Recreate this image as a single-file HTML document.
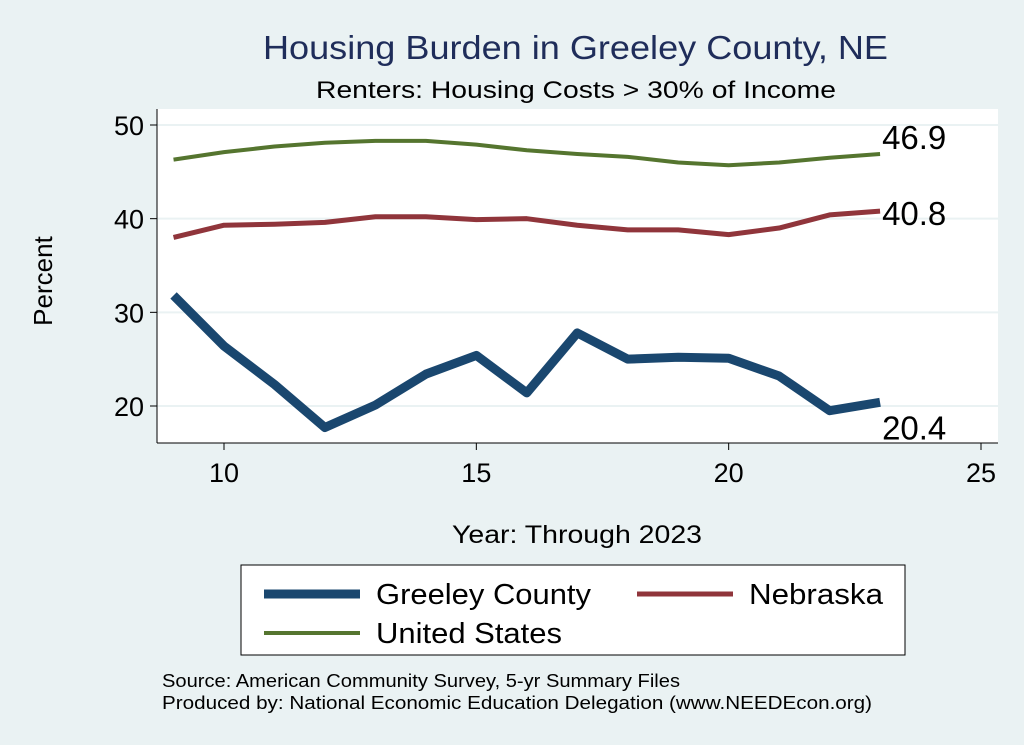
<!DOCTYPE html>
<html><head><meta charset="utf-8"><style>
body{margin:0;background:#eaf2f3;}
svg{display:block;font-family:"Liberation Sans",Arial,sans-serif;}
</style></head><body>
<svg id="chart" width="1024" height="745" viewBox="0 0 1024 745">
<rect x="0" y="0" width="1024" height="745" fill="#eaf2f3"/>
<text x="263" y="59" font-size="33" fill="#1f2d5a" textLength="625" lengthAdjust="spacingAndGlyphs">Housing Burden in Greeley County, NE</text>
<text x="316" y="98" font-size="24" fill="#000" textLength="520" lengthAdjust="spacingAndGlyphs">Renters: Housing Costs &gt; 30% of Income</text>
<rect x="157" y="109" width="841" height="334" fill="#fff"/>
<g id="grid"></g>
<g id="axes"></g>
<g id="series"></g>
<text x="52" y="281" font-size="26" text-anchor="middle" transform="rotate(-90 52 281)">Percent</text>
<text x="452" y="543" font-size="25" textLength="250" lengthAdjust="spacingAndGlyphs">Year: Through 2023</text>
<g>
<rect x="241" y="565" width="664" height="90" fill="#fff" stroke="#000" stroke-width="1"/>
<line x1="264" y1="594" x2="360" y2="594" stroke="#1a476f" stroke-width="9"/>
<text x="376" y="604" font-size="29" textLength="215" lengthAdjust="spacingAndGlyphs">Greeley County</text>
<line x1="637" y1="594" x2="733" y2="594" stroke="#90353b" stroke-width="5"/>
<text x="749" y="604" font-size="29" textLength="134" lengthAdjust="spacingAndGlyphs">Nebraska</text>
<line x1="264" y1="633" x2="360" y2="633" stroke="#55752f" stroke-width="4"/>
<text x="376" y="643" font-size="29" textLength="186" lengthAdjust="spacingAndGlyphs">United States</text>
</g>
<text x="162" y="687" font-size="18" textLength="518" lengthAdjust="spacingAndGlyphs">Source: American Community Survey, 5-yr Summary Files</text>
<text x="162" y="709" font-size="18" textLength="710" lengthAdjust="spacingAndGlyphs">Produced by: National Economic Education Delegation (www.NEEDEcon.org)</text>
</svg>
<script>
const years=[9,10,11,12,13,14,15,16,17,18,19,20,21,22,23];
const greeley=[31.8,26.4,22.3,17.7,20.1,23.4,25.4,21.4,27.8,25.0,25.2,25.1,23.2,19.5,20.4];
const nebraska=[38.0,39.3,39.4,39.6,40.2,40.2,39.9,40.0,39.3,38.8,38.8,38.3,39.0,40.4,40.8];
const us=[46.3,47.1,47.7,48.1,48.3,48.3,47.9,47.3,46.9,46.6,46.0,45.7,46.0,46.5,46.9];
const xTicks=[10,15,20,25];
const yTicks=[20,30,40,50];
const NS='http://www.w3.org/2000/svg';
function X(v){return 224+(v-10)*(981-224)/15;}
function Y(v){return 406-(v-20)*(406-125)/30;}
function mk(tag,attrs,parent){const e=document.createElementNS(NS,tag);for(const k in attrs)e.setAttribute(k,attrs[k]);parent.appendChild(e);return e;}
const grid=document.getElementById('grid'),axes=document.getElementById('axes'),ser=document.getElementById('series');
yTicks.forEach(t=>{
 const g=mk('line',{x1:157,x2:998,y1:Y(t),y2:Y(t),stroke:'#eaf2f3','stroke-width':2},grid);
 
 
 const tk=mk('line',{x1:150,x2:157,y1:Y(t),y2:Y(t),stroke:'#000','stroke-width':1},axes);
 
 
 const tx=mk('text',{x:144,y:Y(t)+10,'font-size':27,'text-anchor':'end'},axes);
 tx.textContent=t;
 
 
});
xTicks.forEach(t=>{
 const tk=mk('line',{x1:X(t),x2:X(t),y1:443,y2:450,stroke:'#000','stroke-width':1},axes);
 
 
 const tx=mk('text',{x:X(t),y:482,'font-size':27,'text-anchor':'middle'},axes);
 tx.textContent=t;
 
 
});
const ya=mk('line',{x1:157,x2:157,y1:109,y2:443,stroke:'#000','stroke-width':1},axes);


const xa=mk('line',{x1:157,x2:998,y1:443,y2:443,stroke:'#000','stroke-width':1},axes);


function line(vals,color,w,name){
 const p=mk('polyline',{points:vals.map((v,i)=>X(years[i])+','+Y(v)).join(' '),fill:'none',stroke:color,'stroke-width':w,'stroke-linejoin':'round'},ser);
 
 
}
line(us,'#55752f',4,'line-us');
line(nebraska,'#90353b',5,'line-nebraska');
line(greeley,'#1a476f',9,'line-greeley');
function lab(v,dy,name){
 const t=mk('text',{x:X(years[years.length-1])+2,y:Y(v)+dy,'font-size':33},ser);
 t.textContent=v.toFixed(1);
 
 
}
lab(us[us.length-1],-5,'label-us-end');
lab(nebraska[nebraska.length-1],14,'label-nebraska-end');
lab(greeley[greeley.length-1],37,'label-greeley-end');
</script>
</body></html>
